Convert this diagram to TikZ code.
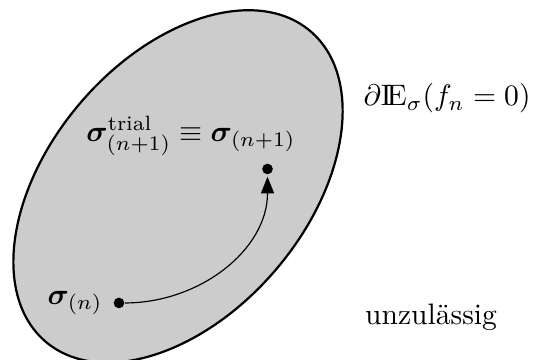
\documentclass[tikz,border=0pt]{standalone}
\usepackage{amsmath}
\usepackage{bm}
\usepackage{tikz}
\usetikzlibrary{arrows.meta, positioning}
\definecolor{regiongray}{HTML}{CCCCCC}

\begin{document}
\begin{tikzpicture}[
  pt/.style={circle, fill=black, inner sep=0pt, minimum size=3.6pt},
  region/.style={draw, fill=regiongray, line width=0.75pt},
]
  \useasboundingbox (0,0) rectangle (6.33,4.275);
  \draw[region, rotate around={49.5:(2.114,2.061)}] (2.114,2.061) ellipse (2.423cm and 1.526cm);
  \node[pt] (sn) at (1.413,0.677) {};
  \node[pt] (sn1) at (3.177,2.268) {};
  \draw[-{Triangle[length=5.6pt,width=4.4pt]}, thin, shorten >=0.6pt] (sn) to[out=0, in=-90] (sn1);
  \node[left=0pt of sn] (lsn) {$\bm{\sigma}_{(n)}$};
  \node (ltrial) at (2.268,2.66) {$\bm{\sigma}^{\text{trial}}_{(n+1)} \equiv \bm{\sigma}_{(n+1)}$};
  \node (boundary) at (5.309,3.105) {$\partial\mathrm{I\!E}_{\sigma}(f_n = 0)$};
  \node (outside) at (5.119,0.504) {unzulässig};
\end{tikzpicture}
\end{document}
